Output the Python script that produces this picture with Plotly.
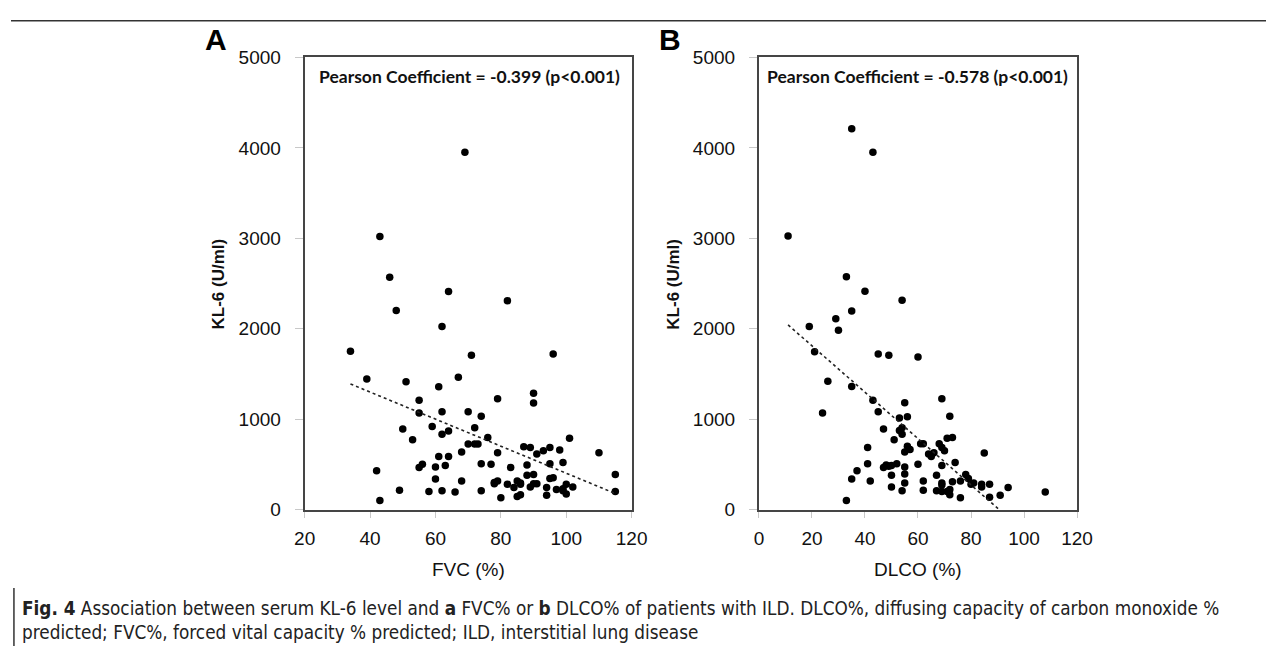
import numpy as np
import plotly.graph_objects as go

# ---------------- Data ----------------
fvc_pct = [69, 43, 46, 64, 82, 48, 62, 34, 71, 96, 39, 51, 67, 61, 55, 79, 90, 90,
           55, 62, 70, 74, 50, 59, 72, 62, 64, 53, 76, 101, 70, 72, 73, 68, 79, 87,
           89, 93, 95, 98, 91, 110, 61, 64, 42, 55, 56, 60, 63, 74, 77, 83, 88, 95,
           99, 88, 90, 115, 60, 68, 78, 79, 85, 86, 95, 96, 78, 82, 84, 86, 89, 90,
           91, 94, 97, 99, 100, 102, 100, 49, 58, 62, 66, 74, 115, 43, 80, 85, 86,
           94, 99]
kl6_fvc = [3950, 3020, 2570, 2410, 2310, 2200, 2025, 1750, 1707, 1720, 1443, 1414,
           1464, 1357, 1207, 1225, 1286, 1178, 1068, 1082, 1082, 1032, 889, 918, 903,
           832, 868, 771, 796, 789, 725, 725, 725, 636, 628, 693, 686, 650, 686, 657,
           614, 628, 586, 586, 428, 464, 500, 471, 486, 507, 500, 464, 493, 507, 521,
           378, 386, 386, 336, 314, 300, 314, 314, 293, 343, 350, 286, 279, 243, 279,
           250, 286, 286, 243, 221, 229, 279, 250, 171, 214, 200, 207, 193, 207, 200,
           100, 129, 143, 164, 157, 207]

dlco_pct = [35, 43, 11, 33, 40, 54, 35, 29, 19, 30, 21, 45, 49, 60, 26, 35, 43, 55,
            69, 24, 45, 53, 56, 72, 47, 53, 54, 54, 51, 71, 73, 41, 61, 62, 68, 69,
            70, 56, 57, 55, 64, 65, 66, 85, 41, 37, 47, 48, 49, 50, 52, 55, 60, 69,
            74, 35, 42, 50, 55, 67, 62, 55, 69, 69, 73, 76, 78, 79, 80, 81, 84, 84,
            87, 94, 50, 62, 54, 67, 69, 71, 72, 72, 76, 87, 91, 108, 33]
kl6_dlco = [4210, 3950, 3025, 2575, 2414, 2314, 2196, 2111, 2025, 1982, 1746, 1721,
            1707, 1686, 1418, 1361, 1207, 1182, 1225, 1068, 1082, 1011, 1025, 1032,
            889, 875, 903, 832, 771, 789, 796, 686, 728, 728, 728, 686, 650, 700, 664,
            636, 614, 586, 628, 625, 507, 428, 464, 493, 479, 486, 507, 471, 500, 486,
            521, 336, 314, 378, 393, 378, 314, 293, 293, 271, 307, 314, 386, 343, 279,
            293, 279, 250, 279, 243, 250, 214, 207, 207, 200, 200, 221, 164, 129, 136,
            157, 193, 100]

x_ticks_a = [20, 40, 60, 80, 100, 120]
x_ticks_b = [0, 20, 40, 60, 80, 100, 120]
y_ticks = [0, 1000, 2000, 3000, 4000, 5000]

pearson_a = "Pearson Coefficient = -0.399 (p<0.001)"
pearson_b = "Pearson Coefficient = -0.578 (p<0.001)"

# ---------------- Figure ----------------
W, H = 1282, 657
fig = go.Figure()


def trend(xs, ys):
    xs = np.asarray(xs, float)
    ys = np.asarray(ys, float)
    m, b = np.polyfit(xs, ys, 1)
    xx = np.array([xs.min(), xs.max()])
    return xx, m * xx + b


for xs, ys, xa, ya in [(fvc_pct, kl6_fvc, "x", "y"), (dlco_pct, kl6_dlco, "x2", "y2")]:
    fig.add_trace(go.Scatter(x=xs, y=ys, mode="markers", xaxis=xa, yaxis=ya,
                             marker=dict(color="black", size=7.5, line=dict(width=0)),
                             showlegend=False, hoverinfo="x+y"))
    tx, ty = trend(xs, ys)
    fig.add_trace(go.Scatter(x=tx, y=ty, mode="lines", xaxis=xa, yaxis=ya,
                             line=dict(color="#222222", width=1.6, dash="dot"),
                             showlegend=False, hoverinfo="skip"))

ydom = [1 - 516 / H, 1 - 49 / H]
axis_font = dict(family="Liberation Sans, Arial, sans-serif", size=19, color="#111111")
common_x = dict(showgrid=False, zeroline=False, showline=True, linecolor="#454545",
                linewidth=2, mirror=True, ticks="outside", ticklen=6, tickcolor="#c8c8c8",
                tickwidth=1, tickfont=axis_font, ticklabelstandoff=5, fixedrange=True)
common_y = dict(showgrid=False, zeroline=False, showline=True, linecolor="#454545",
                linewidth=2, mirror=True, ticks="outside", ticklen=8, tickcolor="#c8c8c8",
                tickwidth=1, tickfont=axis_font, ticklabelstandoff=10, range=[0, 5000],
                tickvals=y_ticks, fixedrange=True)

fig.update_layout(
    width=W, height=H,
    margin=dict(l=0, r=0, t=0, b=0),
    paper_bgcolor="white", plot_bgcolor="white",
    xaxis=dict(domain=[300 / W, 634 / W], range=[20, 120], tickvals=x_ticks_a,
               anchor="y", **common_x),
    yaxis=dict(domain=ydom, anchor="x", **common_y),
    xaxis2=dict(domain=[764 / W, 1089 / W], range=[0, 120], tickvals=x_ticks_b,
                anchor="y2", **common_x),
    yaxis2=dict(domain=ydom, anchor="x2", **common_y),
)

ann_font_bold = dict(family="Liberation Sans, Arial, sans-serif", size=17, color="#111111")
title_font = dict(family="Liberation Sans, Arial, sans-serif", size=19, color="#111111")
pear_font = dict(family="Lato, Open Sans, sans-serif", size=17.5, color="#111111")

annotations = [
    dict(x=209 / W, y=1 - 30 / H, text="<b>A</b>", font=dict(family="Liberation Sans, Arial", size=30, color="black")),
    dict(x=673 / W, y=1 - 30 / H, text="<b>B</b>", font=dict(family="Liberation Sans, Arial", size=30, color="black")),
    dict(x=212 / W, y=1 - 283 / H, text="<b>KL-6 (U/ml)</b>", textangle=-90, font=ann_font_bold),
    dict(x=677 / W, y=1 - 283 / H, text="<b>KL-6 (U/ml)</b>", textangle=-90, font=ann_font_bold),
    dict(x=467 / W, y=1 - 578 / H, text="FVC (%)", font=title_font),
    dict(x=927 / W, y=1 - 578 / H, text="DLCO (%)", font=title_font),
    dict(x=468 / W, y=1 - 69 / H, text="<b>" + pearson_a + "</b>", font=pear_font),
    dict(x=926 / W, y=1 - 69 / H, text="<b>" + pearson_b + "</b>", font=pear_font),
]
cap_font = dict(family="Liberation Sans Narrow, DejaVu Sans Condensed, sans-serif", size=18.8, color="#222222")
annotations += [
    dict(x=9 / W, y=1 - 618 / H, xanchor="left",
         text="<b>Fig. 4</b> Association between serum KL-6 level and <b>a</b> FVC% or <b>b</b> DLCO% of patients with ILD. DLCO%, diffusing capacity of carbon monoxide %",
         font=cap_font),
    dict(x=9 / W, y=1 - 643 / H, xanchor="left",
         text="predicted; FVC%, forced vital capacity % predicted; ILD, interstitial lung disease",
         font=cap_font),
]
for a in annotations:
    a.setdefault("xanchor", "center")
    a.update(xref="paper", yref="paper", yanchor="middle", showarrow=False)
fig.update_layout(annotations=annotations)

# page frame lines
fig.add_shape(type="line", xref="paper", yref="paper", x0=0, x1=1, y0=1 - 11 / H, y1=1 - 11 / H,
              line=dict(color="#333333", width=1.5))
fig.add_shape(type="line", xref="paper", yref="paper", x0=3 / W, x1=3 / W, y0=0, y1=1 - 597 / H,
              line=dict(color="#333333", width=1.5))

fig.write_html("out.html", config={"displayModeBar": False},
               post_script="document.body.style.margin='0';document.body.style.overflow='hidden';")
